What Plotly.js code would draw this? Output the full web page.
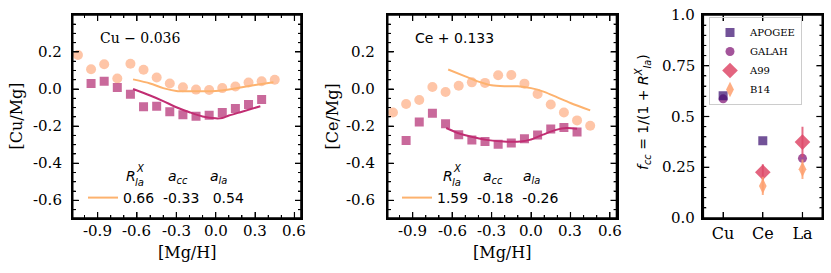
<!DOCTYPE html>
<html>
<head>
<meta charset="utf-8">
<script src="https://cdn.plot.ly/plotly-3.0.1.min.js"></script>
<style>html,body{margin:0;padding:0;background:#fff;}#chart{width:831px;height:273px;}</style>
</head>
<body>
<div id="chart"></div>
<script>
// ---------- data ----------
const binX   = [-1.05,-0.95,-0.85,-0.75,-0.65,-0.55,-0.45,-0.35,-0.25,-0.15,-0.05,0.05,0.15,0.25,0.35,0.45];
const sqX    = [-0.95,-0.85,-0.75,-0.65,-0.55,-0.45,-0.35,-0.25,-0.15,-0.05,0.05,0.15,0.25,0.35];

const cuCircles = [0.183,0.107,0.134,0.057,0.136,0.104,0.062,0.030,0.010,-0.003,-0.005,0.005,0.014,0.035,0.042,0.050];
const cuSquares = [0.030,0.042,0.008,-0.028,-0.096,-0.093,-0.123,-0.138,-0.147,-0.141,-0.127,-0.105,-0.084,-0.057];
const cuOrangeX = [-0.63,-0.5,-0.4,-0.3,-0.2,-0.1,0.0,0.1,0.2,0.3,0.44];
const cuOrangeY = [0.052,0.030,0.005,-0.010,-0.012,-0.012,-0.010,-0.002,0.010,0.022,0.037];
const cuMagX    = [-0.63,-0.5,-0.4,-0.3,-0.2,-0.1,0.0,0.05,0.1,0.2,0.34];
const cuMagY    = [0.0,-0.035,-0.065,-0.098,-0.125,-0.148,-0.158,-0.156,-0.143,-0.122,-0.093];

const ceCircles = [-0.126,-0.081,-0.059,0.011,-0.016,0.018,0.036,0.033,0.074,0.076,0.029,-0.027,-0.083,-0.126,-0.169,-0.198];
const ceSquares = [-0.277,-0.178,-0.131,-0.187,-0.246,-0.274,-0.283,-0.297,-0.291,-0.268,-0.248,-0.216,-0.207,-0.232];
const ceOrangeX = [-0.63,-0.5,-0.4,-0.3,-0.2,-0.1,0.0,0.1,0.2,0.3,0.45];
const ceOrangeY = [0.105,0.068,0.040,0.020,0.015,0.015,0.005,-0.015,-0.045,-0.075,-0.115];
const ceMagX    = [-0.645,-0.54,-0.44,-0.34,-0.21,-0.08,-0.01,0.09,0.19,0.27,0.35];
const ceMagY    = [-0.210,-0.241,-0.259,-0.274,-0.283,-0.283,-0.274,-0.246,-0.220,-0.210,-0.214];

const cuFitLabel = "0.66\u00a0\u00a0-0.33\u00a0\u00a0\u00a00.54";
const ceFitLabel = "1.59\u00a0\u00a0-0.18\u00a0\u00a0-0.26";

const elements  = ["Cu","Ce","La"];
const apogeeX = ["Cu","Ce"];  const apogeeY = [0.602,0.381];
const galahX  = ["Cu","La"];  const galahY  = [0.587,0.294];
const a99X    = ["Ce","La"];  const a99Y    = [0.225,0.374]; const a99Err = [0.040,0.075];
const b14X    = ["Ce","La"];  const b14Y    = [0.158,0.240]; const b14Err = [0.045,0.048];

const xTickVals = [-0.9,-0.6,-0.3,0.0,0.3,0.6];
const xTickText = ["-0.9","-0.6","-0.3","0.0","0.3","0.6"];
const yTickVals = [-0.6,-0.4,-0.2,0.0,0.2];
const yTickText = ["-0.6","-0.4","-0.2","0.0","0.2"];
const fTickVals = [0,0.25,0.5,0.75,1.0];
const fTickText = ["0.0","0.25","0.5","0.75","1.0"];

// ---------- styles ----------
const W = 831, H = 273;
const px = v => v / W, py = v => 1 - v / H;
const SERIF = "DejaVu Serif";
const SANS = "DejaVu Sans";
const cCircle = "rgba(254,159,109,0.6)";
const cSquare = "rgba(183,55,121,0.75)";
const cOrangeLine = "#fdb26e";
const cMagLine = "#c12d72";

function scatterPanel(xa, ya, circles, squares, ox, oy, mx, my, legendId, fitLabel) {
  return [
    {x: binX, y: circles, xaxis: xa, yaxis: ya, mode: "markers", type: "scatter", showlegend: false,
     marker: {symbol: "circle", size: 10, color: cCircle}},
    {x: sqX, y: squares, xaxis: xa, yaxis: ya, mode: "markers", type: "scatter", showlegend: false,
     marker: {symbol: "square", size: 9, color: cSquare}},
    {x: ox, y: oy, xaxis: xa, yaxis: ya, mode: "lines", type: "scatter", name: fitLabel, legend: legendId,
     showlegend: true, line: {color: cOrangeLine, width: 2, shape: "spline", smoothing: 0.8}},
    {x: mx, y: my, xaxis: xa, yaxis: ya, mode: "lines", type: "scatter", showlegend: false,
     line: {color: cMagLine, width: 2, shape: "spline", smoothing: 0.8}}
  ];
}

const traces = [
  ...scatterPanel("x", "y", cuCircles, cuSquares, cuOrangeX, cuOrangeY, cuMagX, cuMagY, "legend2", cuFitLabel),
  ...scatterPanel("x2", "y2", ceCircles, ceSquares, ceOrangeX, ceOrangeY, ceMagX, ceMagY, "legend3", ceFitLabel),
  {x: galahX, y: galahY, xaxis: "x3", yaxis: "y3", mode: "markers", type: "scatter", name: "GALAH", legendrank: 2,
   marker: {symbol: "circle", size: 9, color: "rgba(140,41,129,0.8)"}},
  {x: apogeeX, y: apogeeY, xaxis: "x3", yaxis: "y3", mode: "markers", type: "scatter", name: "APOGEE", legendrank: 1,
   marker: {symbol: "square", size: 9, color: "rgba(59,15,112,0.72)"}},
  {x: a99X, y: a99Y, xaxis: "x3", yaxis: "y3", mode: "markers", type: "scatter", name: "A99", legendrank: 3,
   error_y: {type: "data", array: a99Err, visible: true, color: "rgba(222,73,104,0.8)", thickness: 2, width: 0},
   marker: {symbol: "diamond", size: 12, color: "rgba(222,73,104,0.85)"}},
  {x: b14X, y: b14Y, xaxis: "x3", yaxis: "y3", mode: "markers", type: "scatter", name: "B14", legendrank: 4,
   error_y: {type: "data", array: b14Err, visible: true, color: "rgba(254,159,109,0.8)", thickness: 2, width: 0},
   marker: {symbol: "diamond-tall", size: 11, color: "rgba(254,159,109,0.85)"}}
];

function baseAx() {
  return {
    showline: true, linecolor: "#000", linewidth: 1.6, mirror: "ticks",
    ticks: "inside", ticklen: 6, tickwidth: 1.2, tickcolor: "#000",
    showgrid: false, zeroline: false, tickfont: {family: SERIF, size: 15, color: "#000"}
  };
}
const yDom = [py(218), py(15)];
const X_RANGE = [-1.09, 0.65], Y_RANGE = [-0.695, 0.399];

function xAx(dom, anchor) {
  return Object.assign(baseAx(), {
    domain: dom, anchor: anchor, range: X_RANGE, tickmode: "linear", tick0: 0, dtick: 0.3,
    showticklabels: false,
    minor: {tickmode: "linear", tick0: 0, dtick: 0.1, ticks: "inside", ticklen: 3, tickwidth: 1, tickcolor: "#000"}
  });
}
function yAx(anchor) {
  return Object.assign(baseAx(), {
    domain: yDom, anchor: anchor, range: Y_RANGE, tickmode: "linear", tick0: 0, dtick: 0.2,
    showticklabels: false,
    minor: {tickmode: "linear", tick0: 0, dtick: 0.05, ticks: "inside", ticklen: 3, tickwidth: 1, tickcolor: "#000"}
  });
}

// ---------- frame & inward ticks on all four sides, placed through each subplot's axes ----------
const PLOT_H = 203;
function frameShapes(xr, yr, plotW, xMajor, xMinor, yMajor, yMinor) {
  const s = [];
  const ln = (w) => ({color: "#000", width: w});
  s.push({type: "rect", xref: xr + " domain", yref: yr + " domain", x0: 0, x1: 1, y0: 0, y1: 1,
          line: ln(1.6), fillcolor: "rgba(0,0,0,0)"});
  const xt = (v, len, w) => {
    const f = len / PLOT_H;
    s.push({type: "line", xref: xr, yref: yr + " domain", x0: v, x1: v, y0: 0, y1: f, line: ln(w)});
    s.push({type: "line", xref: xr, yref: yr + " domain", x0: v, x1: v, y0: 1 - f, y1: 1, line: ln(w)});
  };
  const yt = (v, len, w) => {
    const f = len / plotW;
    s.push({type: "line", xref: xr + " domain", yref: yr, x0: 0, x1: f, y0: v, y1: v, line: ln(w)});
    s.push({type: "line", xref: xr + " domain", yref: yr, x0: 1 - f, x1: 1, y0: v, y1: v, line: ln(w)});
  };
  xMinor.forEach(v => xt(v, 3, 1));
  xMajor.forEach(v => xt(v, 6, 1.2));
  yMinor.forEach(v => yt(v, 3, 1));
  yMajor.forEach(v => yt(v, 6, 1.2));
  return s;
}
function stepsIn(lo, hi, step, skipEvery) {
  const out = [];
  for (let k = Math.ceil(lo / step - 1e-9); k * step <= hi + 1e-9; k++) {
    if (skipEvery && k % skipEvery === 0) continue;
    out.push(Math.round(k * step * 1000) / 1000);
  }
  return out;
}
const xMinorVals = stepsIn(X_RANGE[0], X_RANGE[1], 0.1, 3);
const yMinorVals = stepsIn(Y_RANGE[0], Y_RANGE[1], 0.05, 4);
const fMinorVals = stepsIn(0.01, 0.99, 0.05, 5);
const catPos = elements.map((e, i) => i);

const shapes = [
  ...frameShapes("x", "y", 228.3, xTickVals, xMinorVals, yTickVals, yMinorVals),
  ...frameShapes("x2", "y2", 228.8, xTickVals, xMinorVals, yTickVals, yMinorVals),
  ...frameShapes("x3", "y3", 119, catPos, [], fTickVals.slice(1, 4), fMinorVals)
];

// ---------- texts ----------
const txt = (o) => Object.assign({showarrow: false}, o);
function xLabels(xref) {
  return xTickVals.map((v, i) => txt({xref: xref, yref: "paper", x: v, y: py(231), xanchor: "center", yanchor: "middle",
    text: xTickText[i], font: {family: SERIF, size: 15, color: "#000"}}));
}
function yLabels(yref, xRight, vals, texts) {
  return vals.map((v, i) => txt({xref: "paper", yref: yref, x: px(xRight), y: v, xanchor: "right", yanchor: "middle",
    text: texts[i], font: {family: SERIF, size: 15, color: "#000"}}));
}
const sub = (t) => "<sub><i>" + t + "</i></sub>";
const hdr = (x, y, text, size) => txt({
  xref: "paper", yref: "paper", x: px(x), y: py(y), xanchor: "left", yanchor: "middle",
  text: text, font: {family: SANS, size: size, color: "#000"}
});
function header(x0, xcc, xla) {
  return [
    hdr(x0, 176, "<i>R</i>", 14),
    hdr(x0 + 10, 168, "<i>X</i>", 10),
    hdr(x0 + 9, 182, "<i>la</i>", 10),
    hdr(xcc, 177, "<i>a</i>" + sub("cc"), 14),
    hdr(xla, 177, "<i>a</i>" + sub("la"), 14)
  ];
}
const titleFont = {family: SERIF, size: 16, color: "#000"};

const layout = {
  width: W, height: H,
  margin: {l: 0, r: 0, t: 0, b: 0},
  paper_bgcolor: "#fff", plot_bgcolor: "#fff",
  xaxis: xAx([px(72.7), px(301)], "y"),
  yaxis: yAx("x"),
  xaxis2: xAx([px(387.7), px(616.5)], "y2"),
  yaxis2: yAx("x2"),
  xaxis3: Object.assign(baseAx(), {
    domain: [px(703.3), px(822.3)], anchor: "y3", type: "category", categoryorder: "array",
    categoryarray: elements, range: [-0.5, 2.5], tickfont: {family: SERIF, size: 16, color: "#000"}
  }),
  yaxis3: Object.assign(baseAx(), {
    domain: yDom, anchor: "x3", range: [0, 1], tickmode: "linear", tick0: 0, dtick: 0.25,
    showticklabels: false,
    minor: {tickmode: "linear", tick0: 0, dtick: 0.05, ticks: "inside", ticklen: 3, tickwidth: 1, tickcolor: "#000"}
  }),
  legend: {
    x: px(709), y: py(17), xanchor: "left", yanchor: "top", traceorder: "normal",
    bgcolor: "rgba(255,255,255,0)", bordercolor: "#cccccc", borderwidth: 1,
    font: {family: SERIF, size: 10, color: "#000"}
  },
  legend2: {
    x: px(83), y: py(198), xanchor: "left", yanchor: "middle", bgcolor: "rgba(0,0,0,0)",
    font: {family: SANS, size: 14, color: "#000"}
  },
  legend3: {
    x: px(397), y: py(198), xanchor: "left", yanchor: "middle", bgcolor: "rgba(0,0,0,0)",
    font: {family: SANS, size: 14, color: "#000"}
  },
  shapes: shapes,
  annotations: [
    txt({xref: "paper", yref: "paper", x: px(98), y: py(38), xanchor: "left", yanchor: "middle",
     text: "Cu \u2212 0.036", font: {family: SERIF, size: 14, color: "#000"}}),
    txt({xref: "paper", yref: "paper", x: px(413), y: py(38), xanchor: "left", yanchor: "middle",
     text: "Ce + 0.133", font: {family: SANS, size: 14, color: "#000"}}),
    ...header(124, 166, 208),
    ...header(441, 481, 521),
    ...xLabels("x"), ...xLabels("x2"),
    ...yLabels("y", 63.5, yTickVals, yTickText),
    ...yLabels("y2", 377, yTickVals, yTickText),
    ...yLabels("y3", 697, fTickVals, fTickText),
    txt({xref: "paper", yref: "paper", x: px(186.9), y: py(252), xanchor: "center", yanchor: "middle", text: "[Mg/H]", font: titleFont}),
    txt({xref: "paper", yref: "paper", x: px(502.1), y: py(252), xanchor: "center", yanchor: "middle", text: "[Mg/H]", font: titleFont}),
    txt({xref: "paper", yref: "paper", x: px(16), y: py(116.5), xanchor: "center", yanchor: "middle", textangle: -90, text: "[Cu/Mg]", font: titleFont}),
    txt({xref: "paper", yref: "paper", x: px(332), y: py(116.5), xanchor: "center", yanchor: "middle", textangle: -90, text: "[Ce/Mg]", font: titleFont}),
    txt({xref: "paper", yref: "paper", x: px(643), y: py(112), xanchor: "center", yanchor: "middle", textangle: -90,
     text: "<i>f</i><sub><i>cc</i></sub> = 1/(1 + <i>R</i><sup><i>X</i></sup><sub><i>la</i></sub>)",
     font: {family: SANS, size: 14, color: "#000"}})
  ]
};

Plotly.newPlot("chart", traces, layout, {displayModeBar: false});
</script>
</body>
</html>
